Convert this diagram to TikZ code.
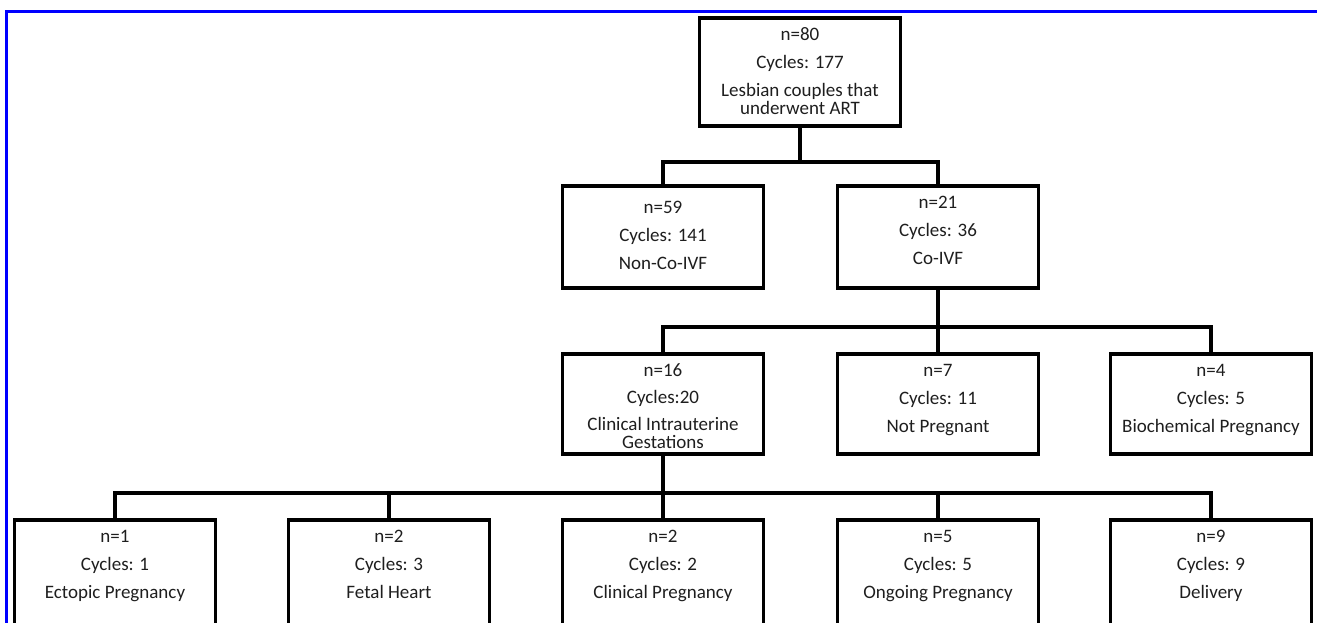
\documentclass[tikz,border=0pt]{standalone}
\usepackage{fontspec}
\setmainfont{Carlito}
\usetikzlibrary{positioning,calc}
\definecolor{frameblue}{RGB}{0,0,255}
\definecolor{txtcolor}{RGB}{30,30,30}
\newcommand{\bxtext}[2]{\parbox[c][#1][t]{195pt}{\centering\vspace{2pt}#2}}

\begin{document}
\begin{tikzpicture}[x=1pt, y=-1pt,
      every node/.style={font=\fontsize{19}{18}\selectfont, text=txtcolor},
      bx/.style={rectangle, draw=black, line width=3.5pt, inner xsep=3pt, inner ysep=8pt},
      ed/.style={black, line width=3.5pt},
      fr/.style={frameblue, line width=3pt}
    ]
    \useasboundingbox (0,0) rectangle (1317,622);
    \clip (0,0) rectangle (1317,622);
    % frame
    \draw[fr] (6,650) -- (6,11) -- (1340,11);
    % root
    \node[bx] (r) at (800,72) {\bxtext{92pt}{n=80\\[10pt]Cycles: 177\\[10pt]Lesbian couples that\\underwent ART}};
    % level 1: treatment
    \node[bx] (a1) at (663,237) {\bxtext{86pt}{\vspace{5pt}n=59\\[10pt]Cycles: 141\\[10pt]Non-Co-IVF}};
    \node[bx] (a2) at (938,237) {\bxtext{86pt}{n=21\\[10pt]Cycles: 36\\[10pt]Co-IVF}};
    % level 2: Co-IVF outcome
    \node[bx] (b1) at (663,404) {\bxtext{84pt}{n=16\\[9pt]Cycles:20\\[9pt]Clinical Intrauterine\\Gestations}};
    \node[bx] (b2) at (938,404) {\bxtext{84pt}{n=7\\[10pt]Cycles: 11\\[10pt]Not Pregnant}};
    \node[bx] (b3) at (1211,404) {\bxtext{84pt}{n=4\\[10pt]Cycles: 5\\[10pt]Biochemical Pregnancy}};
    % level 3: gestation outcome (boxes run past the lower edge)
    \node[bx] (c1) at (115,575) {\bxtext{94pt}{n=1\\[10pt]Cycles: 1\\[10pt]Ectopic Pregnancy}};
    \node[bx] (c2) at (389,575) {\bxtext{94pt}{n=2\\[10pt]Cycles: 3\\[10pt]Fetal Heart}};
    \node[bx] (c3) at (663,575) {\bxtext{94pt}{n=2\\[10pt]Cycles: 2\\[10pt]Clinical Pregnancy}};
    \node[bx] (c4) at (938,575) {\bxtext{94pt}{n=5\\[10pt]Cycles: 5\\[10pt]Ongoing Pregnancy}};
    \node[bx] (c5) at (1211,575) {\bxtext{94pt}{n=9\\[10pt]Cycles: 9\\[10pt]Delivery}};
    % edges
    \draw[ed] (r.south) -- ++(0,34) coordinate (j1);
    \draw[ed] (a1.north) |- (j1) -| (a2.north);
    \draw[ed] (a2.south) -- ++(0,37) coordinate (j2);
    \draw[ed] (b1.north) |- (j2) -| (b3.north);
    \draw[ed] (j2) -- (b2.north);
    \draw[ed] (b1.south) -- ++(0,37) coordinate (j3);
    \draw[ed] (c1.north) |- (j3) -| (c5.north);
    \draw[ed] (j3) -- (c3.north);
    \draw[ed] (c2.north) -- (c2.north |- j3);
    \draw[ed] (c4.north) -- (c4.north |- j3);
  \end{tikzpicture}
\end{document}
